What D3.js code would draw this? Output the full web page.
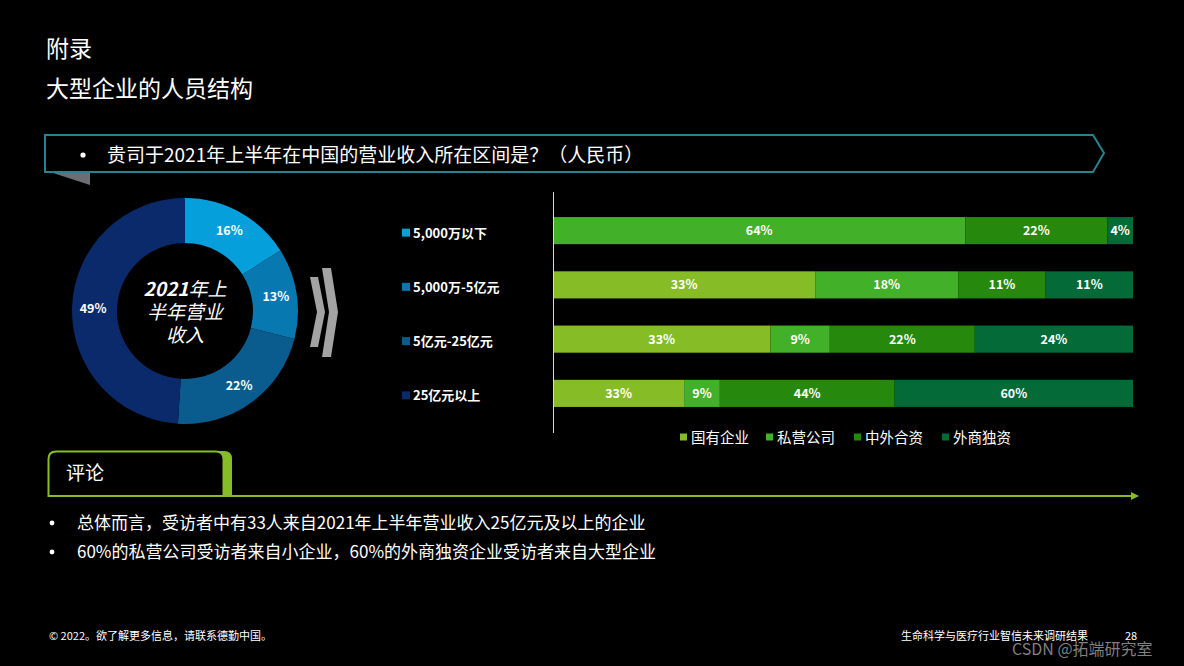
<!DOCTYPE html>
<html>
<head>
<meta charset="utf-8">
<script src="https://cdn.jsdelivr.net/npm/d3@7"></script>
<style>
  html, body { margin: 0; padding: 0; background: #000; }
  svg { display: block; font-family: "Noto Sans CJK SC", "Noto Sans", sans-serif; }
</style>
</head>
<body>
<script>
// donut: revenue bands
var bands = ['5,000万以下', '5,000万-5亿元', '5亿元-25亿元', '25亿元以上'];
var bandShare = [16, 13, 22, 49];
var bandColors = ['#05a0dc', '#0879b0', '#0a5b8e', '#0b2a6b'];

// stacked bars: company type per band
var types = ['国有企业', '私营公司', '中外合资', '外商独资'];
var typeColors = ['#86bc25', '#43b02a', '#26890d', '#046a38'];
var stateOwned = [0, 33, 33, 33];
var privateCo = [64, 18, 9, 9];
var jointVenture = [22, 11, 22, 44];
var foreignOwned = [4, 11, 24, 60];

var comments = [
  '总体而言，受访者中有33人来自2021年上半年营业收入25亿元及以上的企业',
  '60%的私营公司受访者来自小企业，60%的外商独资企业受访者来自大型企业'
];

var W = 1184, H = 666;
var svg = d3.select('body').append('svg').attr('width', W).attr('height', H);
svg.append('rect').attr('width', W).attr('height', H).attr('fill', '#000');

// titles
svg.append('text').attr('x', 46).attr('y', 57).attr('fill', '#fff').style('font-size', '23px').text('附录');
svg.append('text').attr('x', 46).attr('y', 97).attr('fill', '#fff').style('font-size', '23px').text('大型企业的人员结构');

// question banner
svg.append('path').attr('d', 'M50,172 L90,172 L90,185 Z').attr('fill', '#6b6f74');
svg.append('path')
  .attr('d', 'M45,135 L1093,135 L1104,153 L1093,172 L45,172 Z')
  .attr('fill', 'none').attr('stroke', '#27838f').attr('stroke-width', 2);
svg.append('circle').attr('cx', 83).attr('cy', 155).attr('r', 2.6).attr('fill', '#fff');
svg.append('text').attr('x', 107).attr('y', 162).attr('fill', '#fff').style('font-size', '19px')
  .text('贵司于2021年上半年在中国的营业收入所在区间是？（人民币）');

// donut
var cx = 185, cy = 311;
var pie = d3.pie().sort(null)(bandShare);
var arc = d3.arc().innerRadius(68).outerRadius(113);
var labelArc = d3.arc().innerRadius(92).outerRadius(92);
var dg = svg.append('g').attr('transform', 'translate(' + cx + ',' + cy + ')');
dg.selectAll('path.slice').data(pie).join('path').attr('class', 'slice')
  .attr('d', arc).attr('fill', function(d, i) { return bandColors[i]; });
dg.selectAll('text.lbl').data(pie).join('text').attr('class', 'lbl')
  .attr('transform', function(d) { var c = labelArc.centroid(d); return 'translate(' + c[0] + ',' + (c[1] + 4.5) + ')'; })
  .attr('text-anchor', 'middle').attr('fill', '#fff')
  .style('font-size', '12.5px').style('font-weight', 'bold')
  .text(function(d) { return d.data + '%'; });

var ct = dg.append('text').attr('text-anchor', 'middle').attr('fill', '#fff')
  .style('font-size', '19px').style('font-style', 'italic');
var l1 = ct.append('tspan').attr('x', 0).attr('y', -15);
l1.append('tspan').style('font-weight', 'bold').text('2021');
l1.append('tspan').text('年上');
ct.append('tspan').attr('x', 0).attr('y', 8).text('半年营业');
ct.append('tspan').attr('x', 0).attr('y', 31).text('收入');

// chevrons
svg.append('path').attr('d', 'M310,277 L318,277 L325,312 L318,347 L310,347 L317,312 Z').attr('fill', '#a3a3a3');
svg.append('path').attr('d', 'M322,268 L331,268 L338,312 L331,357 L322,357 L329,312 Z').attr('fill', '#a3a3a3');

// stacked bars
var rows = bands.map(function(b, i) {
  var vals = [stateOwned[i], privateCo[i], jointVenture[i], foreignOwned[i]];
  var tot = d3.sum(vals);
  var r = { band: b };
  types.forEach(function(t, j) { r[t] = vals[j] / tot; r[t + '_raw'] = vals[j]; });
  return r;
});
var x = d3.scaleLinear().domain([0, 1]).range([553, 1133]);
var y = d3.scaleBand().domain(bands).range([203.5, 420.5]).paddingInner(0.5).paddingOuter(0.25);
var stack = d3.stack().keys(types)(rows);

var sg = svg.selectAll('g.series').data(stack).join('g').attr('class', 'series')
  .attr('fill', function(d, i) { return typeColors[i]; });
sg.selectAll('rect').data(function(d) { return d; }).join('rect')
  .attr('x', function(d) { return x(d[0]); })
  .attr('y', function(d) { return y(d.data.band); })
  .attr('width', function(d) { return x(d[1]) - x(d[0]); })
  .attr('height', y.bandwidth());
sg.selectAll('text').data(function(d) {
    var key = d.key;
    return d.filter(function(s) { return s.data[key + '_raw'] > 0; }).map(function(s) { return { s: s, key: key }; });
  }).join('text')
  .attr('x', function(d) { return (x(d.s[0]) + x(d.s[1])) / 2; })
  .attr('y', function(d) { return y(d.s.data.band) + y.bandwidth() / 2 + 4.5; })
  .attr('text-anchor', 'middle').attr('fill', '#fff')
  .style('font-size', '12.5px').style('font-weight', 'bold')
  .text(function(d) { return d.s.data[d.key + '_raw'] + '%'; });

svg.append('line').attr('x1', 553.5).attr('x2', 553.5).attr('y1', 192).attr('y2', 433)
  .attr('stroke', '#d9d9d9').attr('stroke-width', 1);

// band legend (left of bars)
var bl = svg.selectAll('g.bandLeg').data(bands).join('g').attr('class', 'bandLeg')
  .attr('transform', function(d) { return 'translate(402,' + (y(d) + y.bandwidth() / 2 + 2) + ')'; });
bl.append('rect').attr('x', 0).attr('y', -4).attr('width', 8).attr('height', 8)
  .attr('fill', function(d, i) { return bandColors[i]; });
bl.append('text').attr('x', 11).attr('y', 5).attr('fill', '#fff')
  .style('font-size', '13px').style('font-weight', 'bold')
  .text(function(d) { return d; });

// type legend (below bars)
var legX = [680, 766, 854, 942];
var tl = svg.selectAll('g.typeLeg').data(types).join('g').attr('class', 'typeLeg')
  .attr('transform', function(d, i) { return 'translate(' + legX[i] + ',437)'; });
tl.append('rect').attr('x', 0).attr('y', -3.5).attr('width', 7).attr('height', 7)
  .attr('fill', function(d, i) { return typeColors[i]; });
tl.append('text').attr('x', 11).attr('y', 5.5).attr('fill', '#fff').style('font-size', '14.5px')
  .text(function(d) { return d; });

// comment box
svg.append('path').attr('d', 'M56,496 L56,459 Q56,451 64,451 L224,451 Q232,451 232,459 L232,496 Z').attr('fill', '#86bc25');
svg.append('path').attr('d', 'M48.5,496 L48.5,459 Q48.5,451.5 56,451.5 L216,451.5 Q223.5,451.5 223.5,459 L223.5,496 Z')
  .attr('fill', '#000').attr('stroke', '#86bc25').attr('stroke-width', 2);
svg.append('text').attr('x', 66).attr('y', 480).attr('fill', '#fff').style('font-size', '19px').text('评论');
svg.append('line').attr('x1', 48).attr('x2', 1132).attr('y1', 496).attr('y2', 496)
  .attr('stroke', '#86bc25').attr('stroke-width', 2);
svg.append('path').attr('d', 'M1131,492 L1139,496 L1131,500 Z').attr('fill', '#86bc25');

svg.selectAll('g.cmt').data(comments).join('g').attr('class', 'cmt')
  .attr('transform', function(d, i) { return 'translate(0,' + (529 + i * 29) + ')'; })
  .each(function(d) {
    var g = d3.select(this);
    g.append('circle').attr('cx', 52).attr('cy', -6).attr('r', 2.4).attr('fill', '#fff');
    g.append('text').attr('x', 77).attr('y', 0).attr('fill', '#fff').style('font-size', '17px').text(d);
  });

// footer
svg.append('text').attr('x', 49).attr('y', 640).attr('fill', '#fff').style('font-size', '11px')
  .text('© 2022。欲了解更多信息，请联系德勤中国。');
svg.append('text').attr('x', 901).attr('y', 640).attr('fill', '#fff').style('font-size', '11px')
  .text('生命科学与医疗行业智信未来调研结果');
svg.append('text').attr('x', 1125).attr('y', 640).attr('fill', '#fff').style('font-size', '11px').text('28');
svg.append('text').attr('x', 1012).attr('y', 655).attr('fill', '#9a9a9a').attr('fill-opacity', 0.85)
  .style('font-size', '16px').text('CSDN @拓端研究室');
</script>
</body>
</html>
